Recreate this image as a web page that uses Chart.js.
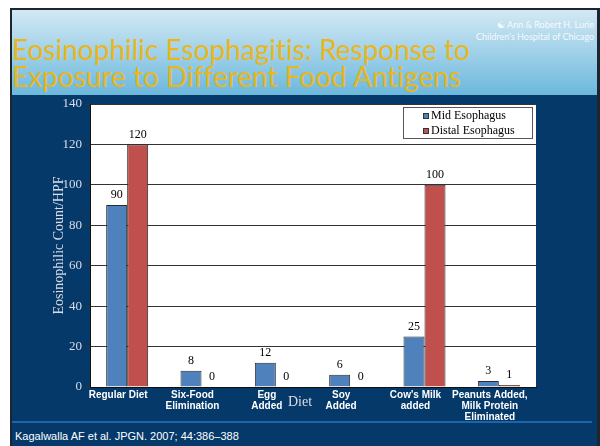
<!DOCTYPE html>
<html>
<head>
<meta charset="utf-8">
<script src="https://cdn.jsdelivr.net/npm/chart.js@4/dist/chart.umd.min.js"></script>
<style>
  body { margin: 0; background: #fff; }
  #page { position: relative; width: 600px; height: 446px; overflow: hidden; background: #fff; }
  .abs { position: absolute; }
  #frame { left: 10px; top: 8px; width: 590px; height: 438px; background: #1c2530; }
  #header { left: 12px; top: 10px; width: 585px; height: 85px; background: linear-gradient(#d3e9f4, #6cb8dc); }
  #body { left: 12px; top: 95px; width: 585px; height: 351px; background: #04396a; }
  #footline { left: 12px; top: 421px; width: 580px; height: 2px; background: #1e63ae; }
  #footer { left: 15px; top: 430px; font: 11px "Liberation Sans", Arial, sans-serif; color: #fff; white-space: nowrap; }
  #title { left: 12px; top: 36px; font: 28px Lato, sans-serif; line-height: 27px; color: #e8b61e; white-space: nowrap; font-variant-ligatures: none; }
  #logo { left: 476px; top: 19px; font: 9px Lato, sans-serif; line-height: 12px; color: rgba(255,255,255,0.9); text-align: right; white-space: nowrap; }
  #chart { left: 0; top: 0; }
</style>
</head>
<body>
<div id="page">
  <div id="frame" class="abs"></div>
  <div id="header" class="abs"></div>
  <div id="body" class="abs"></div>
  <div id="footline" class="abs"></div>
  <div id="footer" class="abs">Kagalwalla AF et al. JPGN. 2007; 44:386–388</div>
  <div id="title" class="abs">Eosinophilic Esophagitis: Response to<br>Exposure to Different Food Antigens</div>
  <div id="logo" class="abs">&#9775; Ann &amp; Robert H. Lurie<br>Children's Hospital of Chicago</div>
  <canvas id="chart" class="abs" width="600" height="446"></canvas>
</div>
<script>
const categories = [
  'Regular Diet',
  ['Six-Food', 'Elimination'],
  ['Egg', 'Added'],
  ['Soy', 'Added'],
  ["Cow's Milk", 'added'],
  ['Peanuts Added,', 'Milk Protein', 'Eliminated']
];
const seriesNames = ['Mid Esophagus', 'Distal Esophagus'];
const midValues = [90, 8, 12, 6, 25, 3];
const distalValues = [120, 0, 0, 0, 100, 1];
const yTicks = [0, 20, 40, 60, 80, 100, 120, 140];
const xTitle = 'Diet';
const yTitle = 'Eosinophilic Count/HPF';

const serif = '"Liberation Serif", "Times New Roman", serif';

// white plot background
const plotBg = {
  id: 'plotBg',
  beforeDraw(chart) {
    const { ctx, chartArea: a } = chart;
    ctx.save();
    ctx.fillStyle = '#fff';
    ctx.fillRect(a.left, a.top, a.right - a.left, a.bottom - a.top);
    ctx.restore();
  }
};

// value labels above bars, legend box inside the plot, x title in the tick row
const extras = {
  id: 'extras',
  afterDraw(chart) {
    const { ctx, chartArea: a } = chart;
    ctx.save();
    ctx.font = '12px ' + serif;
    ctx.fillStyle = '#000';
    ctx.textAlign = 'center';
    ctx.textBaseline = 'middle';
    chart.data.datasets.forEach((ds, i) => {
      chart.getDatasetMeta(i).data.forEach((el, j) => {
        ctx.fillText(String(ds.data[j]), el.x, el.y - 10);
      });
    });

    // legend
    const lx = a.right - 133, ly = a.top + 3, lw = 129, lh = 31;
    ctx.fillStyle = '#fff';
    ctx.fillRect(lx, ly, lw, lh);
    ctx.strokeStyle = '#555';
    ctx.lineWidth = 1;
    ctx.strokeRect(lx + 0.5, ly + 0.5, lw, lh);
    ctx.textAlign = 'left';
    chart.data.datasets.forEach((ds, i) => {
      const cy = ly + 9 + i * 15;
      ctx.fillStyle = ds.backgroundColor;
      ctx.fillRect(lx + 20, cy - 3, 6, 6);
      ctx.strokeStyle = '#333';
      ctx.strokeRect(lx + 20.5, cy - 2.5, 5, 5);
      ctx.fillStyle = '#000';
      ctx.fillText(ds.label, lx + 28, cy);
    });

    // x axis title sits between the tick labels
    ctx.font = '14px ' + serif;
    ctx.fillStyle = '#dcdde6';
    ctx.textAlign = 'center';
    ctx.fillText(xTitle, 300, a.bottom + 15);
    ctx.restore();
  }
};

new Chart(document.getElementById('chart'), {
  type: 'bar',
  data: {
    labels: categories,
    datasets: [
      { label: seriesNames[0], data: midValues, backgroundColor: '#4f81bd', borderColor: '#2b2b2b', borderWidth: 1 },
      { label: seriesNames[1], data: distalValues, backgroundColor: '#c0504d', borderColor: '#2b2b2b', borderWidth: 1 }
    ]
  },
  options: {
    responsive: false,
    animation: false,
    devicePixelRatio: 1,
    layout: { padding: { left: 0, top: 104, right: 64, bottom: 0 } },
    datasets: { bar: { categoryPercentage: 0.565, barPercentage: 1 } },
    plugins: { legend: { display: false }, tooltip: { enabled: false } },
    scales: {
      x: {
        grid: { display: false, drawTicks: false },
        border: { display: true, color: '#111', width: 1 },
        ticks: {
          color: '#fff',
          font: { family: '"Liberation Sans", Arial, sans-serif', size: 10, weight: 'bold', lineHeight: 1.1 },
          padding: 3,
          labelOffset: -9,
          crossAlign: 'near',
          maxRotation: 0,
          autoSkip: false
        },
        afterFit(s) { s.height = 59; }
      },
      y: {
        min: 0,
        max: 140,
        afterBuildTicks(s) { s.ticks = yTicks.map(v => ({ value: v })); },
        grid: { color: '#333', tickLength: 5, drawTicks: true },
        border: { display: true, color: '#111', width: 1 },
        ticks: { color: '#dcdde6', font: { family: serif, size: 13 }, padding: 3 },
        title: {
          display: true,
          text: yTitle,
          color: '#dcdde6',
          font: { family: serif, size: 14 },
          padding: { top: 51, bottom: 0 }
        },
        afterFit(s) { s.width = 90; }
      }
    }
  },
  plugins: [plotBg, extras]
});
</script>
</body>
</html>
